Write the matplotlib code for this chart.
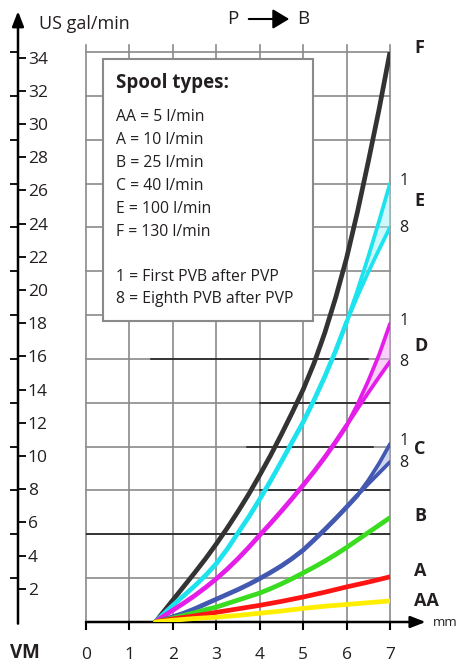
import matplotlib
matplotlib.use("Agg")
import matplotlib.pyplot as plt
from matplotlib.patches import Rectangle, FancyArrowPatch

plt.rcParams["font.family"] = ["Open Sans", "DejaVu Sans"]

W, H = 463, 665
INK = "#231f20"
L_PER_GAL = 3.785412

# spool curves: stroke (mm) vs flow (l/min)
MM = [1.6, 1.75, 2.0, 2.25, 2.5, 2.75, 3.0, 3.25, 3.5, 3.75, 4.0, 4.25,
      4.5, 4.75, 5.0, 5.25, 5.5, 5.75, 6.0, 6.25, 6.5, 6.75, 7.0]
F_FLOW = [0, 1.9, 5, 8.1, 11.2, 14.4, 17.8, 21.4, 25.2, 29.2, 33.5, 38,
          42.8, 47.8, 53, 59, 66, 74, 83, 93.5, 105, 117, 130]
B_FLOW = [0, 0.3, 0.9, 1.5, 2.1, 2.8, 3.4, 4.2, 5.0, 5.8, 6.6, 7.6,
          8.7, 9.9, 11.2, 12.5, 13.9, 15.4, 17.0, 18.7, 20.4, 22.1, 23.8]
A_FLOW = [0, 0.3, 0.7, 1.05, 1.4, 1.8, 2.2, 2.6, 3.0, 3.4, 3.8, 4.25,
          4.7, 5.2, 5.7, 6.25, 6.8, 7.4, 8.0, 8.55, 9.1, 9.7, 10.3]
AA_FLOW = [0, 0.15, 0.4, 0.6, 0.8, 0.95, 1.1, 1.3, 1.5, 1.75, 2.0, 2.25,
           2.5, 2.8, 3.1, 3.35, 3.6, 3.8, 4.0, 4.2, 4.4, 4.6, 4.8]

# curves that split into "1" (first PVB) and "8" (eighth PVB)
E_FLOW = [0, 1.5, 3.8, 6.0, 8.2, 10.6, 13.3, 16.6, 20.3, 24.0, 28.0, 32.2,
          36.6, 41.1, 45.6, 50.6, 56.0, 61.9, 68.4]               # up to 6.0 mm
E_SPLIT_MM = [6.0, 6.25, 6.5, 6.75, 7.0]
E1_FLOW = [68.4, 75.6, 83.3, 91.5, 100]
E8_FLOW = [68.4, 74.3, 79.8, 85, 90]

D_FLOW = [0, 1.1, 2.7, 4.3, 6.0, 7.85, 9.85, 12.05, 14.45, 17.05, 19.8, 22.5,
          25.3, 28.2, 31.2, 34.3, 37.6, 41.1, 44.8]              # up to 6.0 mm
D_SPLIT_MM = [6.0, 6.25, 6.5, 6.75, 7.0]
D1_FLOW = [44.8, 49.6, 55, 61, 68]
D8_FLOW = [44.8, 48.6, 52.3, 55.9, 59.4]

C_FLOW = [0, 0.4, 1.2, 2.0, 3.0, 4.1, 5.2, 6.3, 7.4, 8.6, 9.9, 11.3,
          12.8, 14.5, 16.4, 18.7, 21.1, 23.6, 26.2, 28.9]        # up to 6.25 mm
C_SPLIT_MM = [6.25, 6.5, 6.75, 7.0]
C1_FLOW = [28.9, 32.3, 36.2, 40.6]
C8_FLOW = [28.9, 31.5, 34.0, 36.5]

SPOOL_LINES = ["AA = 5 l/min", "A = 10 l/min", "B = 25 l/min", "C = 40 l/min",
               "E = 100 l/min", "F = 130 l/min", "",
               "1 = First PVB after PVP", "8 = Eighth PVB after PVP"]

GAL_TICKS = list(range(2, 35, 2))
LMIN_GRID = list(range(10, 131, 10))
MM_TICKS = list(range(0, 8))

# darker stretches of the horizontal grid (l/min, from mm, to mm)
DARK_GRID = [(20, 0, 7), (30, 4, 7), (40, 3.7, 6.6), (50, 4, 7), (60, 1.5, 6.5)]

# vertical nudge of the end labels (l/min)
LABEL_NUDGE = {"F": 1.0, "E": 1.1, "D": -0.7, "C": 0.8, "B": 0.3, "A": 1.4, "AA": 0.0}


def fx(px):
    return px / W


def fy(py):
    return 1 - py / H


fig = plt.figure(figsize=(W / 100, H / 100), dpi=100)

ax = fig.add_axes([fx(86), fy(622), 304 / W, 570 / H])
ax.set_xlim(0, 7)
ax.set_ylim(0, 130)
ax.patch.set_alpha(0)
for s in ax.spines.values():
    s.set_visible(False)

# grid
for v in LMIN_GRID:
    ax.plot([0, 7], [v, v], color="#8a8a8a", lw=1.2, zorder=1, clip_on=False)
for v, a, b in DARK_GRID:
    ax.plot([a, b], [v, v], color="#1a1a1a", lw=1.1, zorder=1.1)
for m in MM_TICKS:
    ax.plot([m, m], [0, 131.5], color="#8a8a8a", lw=1.2, zorder=1, clip_on=False)

# x axis with arrow
ax.annotate("", xy=(7.82, 0), xytext=(0, 0), xycoords="data",
            arrowprops=dict(arrowstyle="-|>,head_length=0.9,head_width=0.35",
                            color="black", lw=1.8, shrinkA=0, shrinkB=0),
            annotation_clip=False, zorder=5)
ax.set_xticks(MM_TICKS)
ax.set_xticklabels([str(m) for m in MM_TICKS], fontsize=12.5, color=INK)
ax.tick_params(axis="x", length=6, width=1.5, color="black", pad=12)
ax.set_yticks([])
ax.text(7.98, 0, "mm", fontsize=9.5, color=INK, ha="left", va="center")

# legend box
ax.add_patch(Rectangle((0.39, 68.6), 4.83, 59.8, facecolor="white",
                       edgecolor="#8a8a8a", lw=1.5, zorder=3))
fig.text(fx(116), fy(83), "Spool types:", fontsize=13.5, fontweight="bold",
         color=INK, ha="left", va="center", zorder=4)
line_y = [117, 140, 163, 186, 209, 232, 254, 277, 299]
for txt, py in zip(SPOOL_LINES, line_y):
    if txt:
        fig.text(fx(116), fy(py), txt, fontsize=11.3, color=INK,
                 ha="left", va="center", zorder=4)

# curves
LW = 3.4
ax.plot(MM, F_FLOW, color="#333333", lw=LW, zorder=6, solid_capstyle="round")


def banded(flow, split_mm, flow1, flow8, color, fill):
    n = len(flow)
    ax.plot(MM[:n], flow, color=color, lw=LW, zorder=6, solid_capstyle="round")
    ax.plot(split_mm, flow1, color=color, lw=LW * 0.8, zorder=6, solid_capstyle="round")
    ax.plot(split_mm, flow8, color=color, lw=LW * 0.8, zorder=6, solid_capstyle="round")
    ax.fill_between(split_mm, flow1, flow8, color=fill, alpha=0.5, zorder=5.5, lw=0)


banded(E_FLOW, E_SPLIT_MM, E1_FLOW, E8_FLOW, "#1de3ef", "#9ef3f8")
banded(D_FLOW, D_SPLIT_MM, D1_FLOW, D8_FLOW, "#e41ee8", "#f3a3f4")
banded(C_FLOW, C_SPLIT_MM, C1_FLOW, C8_FLOW, "#4358b0", "#a3b0e0")
ax.plot(MM, B_FLOW, color="#39dc1e", lw=LW, zorder=6, solid_capstyle="round")
ax.plot(MM, A_FLOW, color="#ff1414", lw=LW, zorder=6.1, solid_capstyle="round")
ax.plot(MM, AA_FLOW, color="#ffee00", lw=LW, zorder=6.2, solid_capstyle="round")

# curve labels
label_x = 7.56
for name, end in [("F", F_FLOW[-1]), ("E", (E1_FLOW[-1] + E8_FLOW[-1]) / 2),
                  ("D", (D1_FLOW[-1] + D8_FLOW[-1]) / 2),
                  ("C", (C1_FLOW[-1] + C8_FLOW[-1]) / 2),
                  ("B", B_FLOW[-1]), ("A", A_FLOW[-1]), ("AA", AA_FLOW[-1])]:
    ax.text(label_x, end + LABEL_NUDGE[name], name, fontsize=13, fontweight="bold",
            color=INK, ha="left", va="center")
for end1, end8 in [(E1_FLOW[-1], E8_FLOW[-1]), (D1_FLOW[-1], D8_FLOW[-1]),
                   (C1_FLOW[-1], C8_FLOW[-1])]:
    ax.text(7.22, end1 + 0.6, "1", fontsize=11.5, color=INK, ha="left", va="center")
    ax.text(7.22, end8 - 0.2, "8", fontsize=11.5, color=INK, ha="left", va="center")

# left US gal/min axis
ax2 = fig.add_axes([fx(18) - 0.02, fy(622), 0.02, 570 / H])
ax2.set_ylim(0, 130 / L_PER_GAL)
ax2.set_xlim(0, 1)
ax2.patch.set_alpha(0)
for s in ax2.spines.values():
    s.set_visible(False)
ax2.set_xticks([])
ax2.yaxis.tick_right()
ax2.set_yticks(GAL_TICKS)
ax2.set_yticklabels([str(g) for g in GAL_TICKS], fontsize=12.5, color=INK)
ax2.set_yticks([v / L_PER_GAL for v in LMIN_GRID], minor=True)
ax2.tick_params(axis="y", which="major", direction="out", length=6, width=1.3,
                color="black", pad=1)
ax2.tick_params(axis="y", which="minor", direction="in", length=6, width=1.3,
                color="black")
ax2.annotate("", xy=(1, 36.8), xytext=(1, -0.1), xycoords="data",
             arrowprops=dict(arrowstyle="-|>,head_length=0.9,head_width=0.35",
                             color="black", lw=1.8, shrinkA=0, shrinkB=0),
             annotation_clip=False)

fig.text(fx(39), fy(24), "US gal/min", fontsize=13, color=INK, ha="left", va="center")
fig.text(fx(10), fy(653), "VM", fontsize=13.5, fontweight="bold", color=INK,
         ha="left", va="center")

# P -> B
fig.text(fx(233), fy(19), "P", fontsize=13.5, color=INK, ha="center", va="center")
fig.text(fx(303), fy(19), "B", fontsize=13.5, color=INK, ha="center", va="center")
fig.patches.append(FancyArrowPatch(
    (fx(246), fy(19)), (fx(292), fy(19)), transform=fig.transFigure,
    arrowstyle="-|>,head_length=5,head_width=3", color="black", lw=1.5,
    mutation_scale=2))

fig.savefig("out.png", dpi=100)
